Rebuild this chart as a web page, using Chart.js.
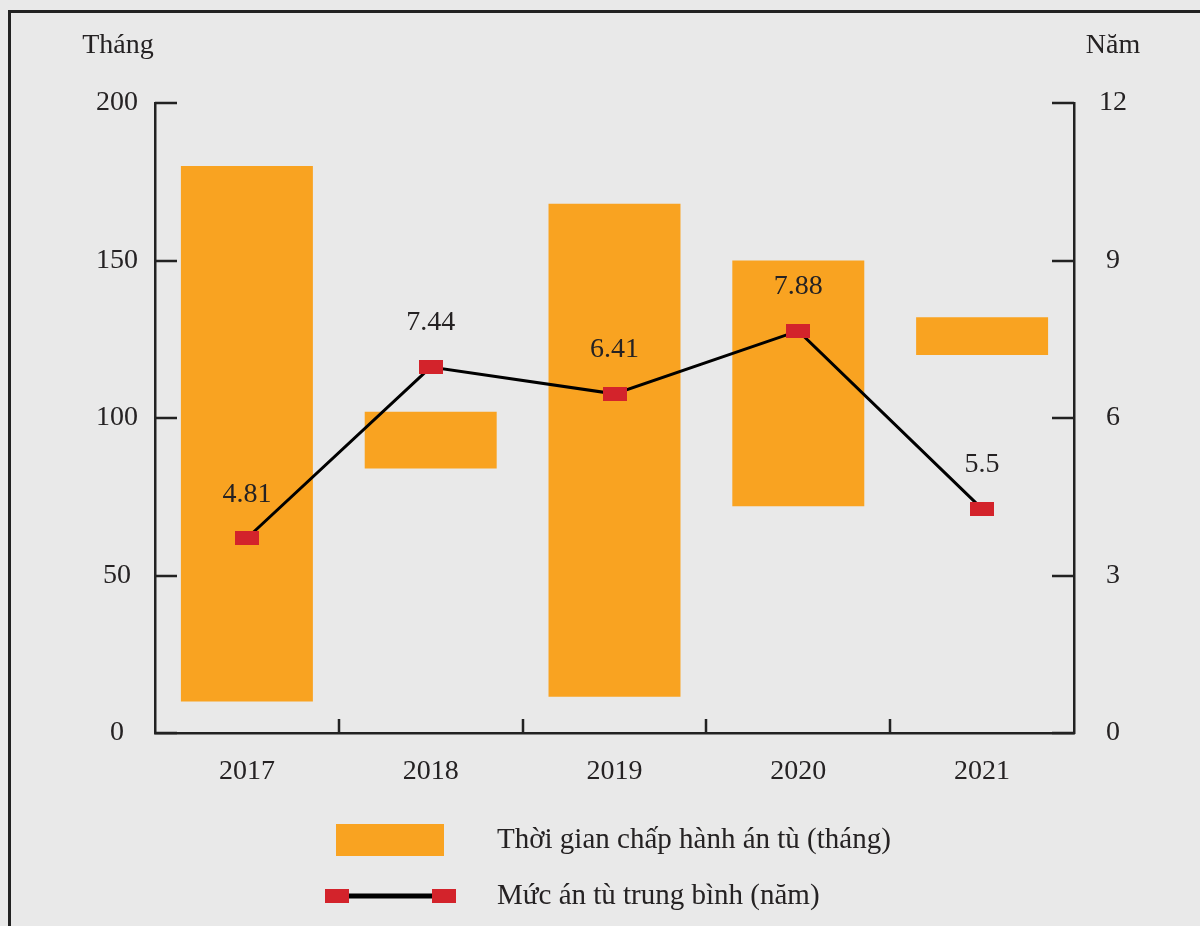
<!DOCTYPE html>
<html>
<head>
<meta charset="utf-8">
<script src="https://cdn.jsdelivr.net/npm/chart.js@4.4.1/dist/chart.umd.min.js"></script>
<style>
  html, body { margin: 0; padding: 0; background: #e9e9e9; }
  #wrap { width: 1200px; height: 926px; position: relative; }
  canvas { display: block; }
</style>
</head>
<body>
<div id="wrap"><canvas id="c" width="1200" height="926"></canvas></div>
<script>
// ---- Data ----
const years = ['2017', '2018', '2019', '2020', '2021'];
const servedMin = [10, 84, 11.5, 72, 120];      // months, bottom of each bar
const servedMax = [180, 102, 168, 150, 132];    // months, top of each bar
const avgSentencePlotted = [3.71, 6.97, 6.46, 7.66, 4.27]; // years, marker positions as drawn
const avgSentenceLabels = ['4.81', '7.44', '6.41', '7.88', '5.5'];
const leftTicks = [0, 50, 100, 150, 200];
const rightTicks = [0, 3, 6, 9, 12];
const leftTitle = 'Tháng';
const rightTitle = 'Năm';
const barLegend = 'Thời gian chấp hành án tù (tháng)';
const lineLegend = 'Mức án tù trung bình (năm)';

const FONT = '"Liberation Serif", "Times New Roman", serif';
const TEXT = '#252223';
const AXIS = '#222222';
const ORANGE = '#f9a321';
const RED = '#d3232b';

// marker: red rectangle 24x14
const marker = document.createElement('canvas');
marker.width = 24; marker.height = 14;
(function(){ const g = marker.getContext('2d'); g.fillStyle = RED; g.fillRect(0,0,24,14); })();

const decor = {
  id: 'decor',
  beforeDraw(chart) {
    const ctx = chart.ctx;
    ctx.save();
    ctx.fillStyle = '#e9e9e9';
    ctx.fillRect(0, 0, chart.width, chart.height);
    // frame
    ctx.strokeStyle = '#222';
    ctx.lineWidth = 3;
    ctx.beginPath();
    ctx.moveTo(9.5, 926); ctx.lineTo(9.5, 11.5); ctx.lineTo(1200, 11.5);
    ctx.stroke();
    ctx.restore();
  },
  afterDraw(chart) {
    const ctx = chart.ctx;
    const y = chart.scales.y, y2 = chart.scales.y2;
    const ca = chart.chartArea;
    ctx.save();
    ctx.strokeStyle = AXIS;
    ctx.lineWidth = 2.5;
    ctx.beginPath();
    leftTicks.forEach(v => { const p = Math.round(y.getPixelForValue(v)); ctx.moveTo(ca.left, p); ctx.lineTo(ca.left + 22, p); });
    rightTicks.forEach(v => { const p = Math.round(y2.getPixelForValue(v)); ctx.moveTo(ca.right, p); ctx.lineTo(ca.right - 22, p); });
    const cw = (ca.right - ca.left) / years.length;
    for (let i = 1; i < years.length; i++) {
      const px = Math.round(ca.left + i * cw);
      ctx.moveTo(px, ca.bottom); ctx.lineTo(px, ca.bottom - 14);
    }
    ctx.stroke();

    // axis titles
    ctx.fillStyle = TEXT;
    ctx.font = '28px ' + FONT;
    ctx.textAlign = 'center';
    ctx.textBaseline = 'middle';
    ctx.fillText(leftTitle, 118, 46);
    ctx.fillText(rightTitle, 1113, 46);

    // value labels above the markers
    const meta = chart.getDatasetMeta(1);
    meta.data.forEach((pt, i) => {
      ctx.fillText(avgSentenceLabels[i], pt.x, pt.y - 44);
    });

    // legend
    ctx.fillStyle = ORANGE;
    ctx.fillRect(336, 824, 108, 32);
    ctx.strokeStyle = '#000';
    ctx.lineWidth = 5;
    ctx.beginPath(); ctx.moveTo(340, 896); ctx.lineTo(444, 896); ctx.stroke();
    ctx.fillStyle = RED;
    ctx.fillRect(325, 889, 24, 14);
    ctx.fillRect(432, 889, 24, 14);
    ctx.fillStyle = TEXT;
    ctx.textAlign = 'left';
    ctx.font = '29px ' + FONT;
    ctx.fillText(barLegend, 497, 840);
    ctx.fillText(lineLegend, 497, 896);
    ctx.restore();
  }
};

const tickFont = { family: FONT, size: 28 };

new Chart(document.getElementById('c'), {
  type: 'bar',
  data: {
    labels: years,
    datasets: [
      {
        type: 'bar',
        label: barLegend,
        data: years.map((_, i) => [servedMin[i], servedMax[i]]),
        backgroundColor: ORANGE,
        borderWidth: 0,
        categoryPercentage: 1,
        barPercentage: 0.718,
        yAxisID: 'y',
        order: 2
      },
      {
        type: 'line',
        label: lineLegend,
        data: avgSentencePlotted,
        borderColor: '#000',
        borderWidth: 3,
        pointStyle: marker,
        pointRadius: 7,
        tension: 0,
        yAxisID: 'y2',
        order: 1
      }
    ]
  },
  options: {
    responsive: false,
    animation: false,
    devicePixelRatio: 1,
    layout: { padding: { top: 103, left: 0, right: 46, bottom: 133 } },
    plugins: { legend: { display: false }, tooltip: { enabled: false } },
    scales: {
      x: {
        offset: true,
        grid: { display: false, drawTicks: false, tickLength: 0 },
        border: { display: true, color: AXIS, width: 2.5 },
        ticks: { font: tickFont, color: TEXT, padding: 22, maxRotation: 0 },
        afterFit(s) { s.height = 60; }
      },
      y: {
        position: 'left',
        min: 0, max: 200,
        afterBuildTicks(s) { s.ticks = leftTicks.map(v => ({ value: v })); },
        grid: { drawOnChartArea: false, drawTicks: false, tickLength: 0 },
        border: { display: true, color: AXIS, width: 2.5 },
        ticks: { font: tickFont, color: TEXT, padding: 17, crossAlign: 'center' },
        afterFit(s) { s.width = 155; }
      },
      y2: {
        position: 'right',
        min: 0, max: 12,
        afterBuildTicks(s) { s.ticks = rightTicks.map(v => ({ value: v })); },
        grid: { drawOnChartArea: false, drawTicks: false, tickLength: 0 },
        border: { display: true, color: AXIS, width: 2.5 },
        ticks: { font: tickFont, color: TEXT, padding: 25, crossAlign: 'center' },
        afterFit(s) { s.width = 80; }
      }
    }
  },
  plugins: [decor]
});
</script>
</body>
</html>
